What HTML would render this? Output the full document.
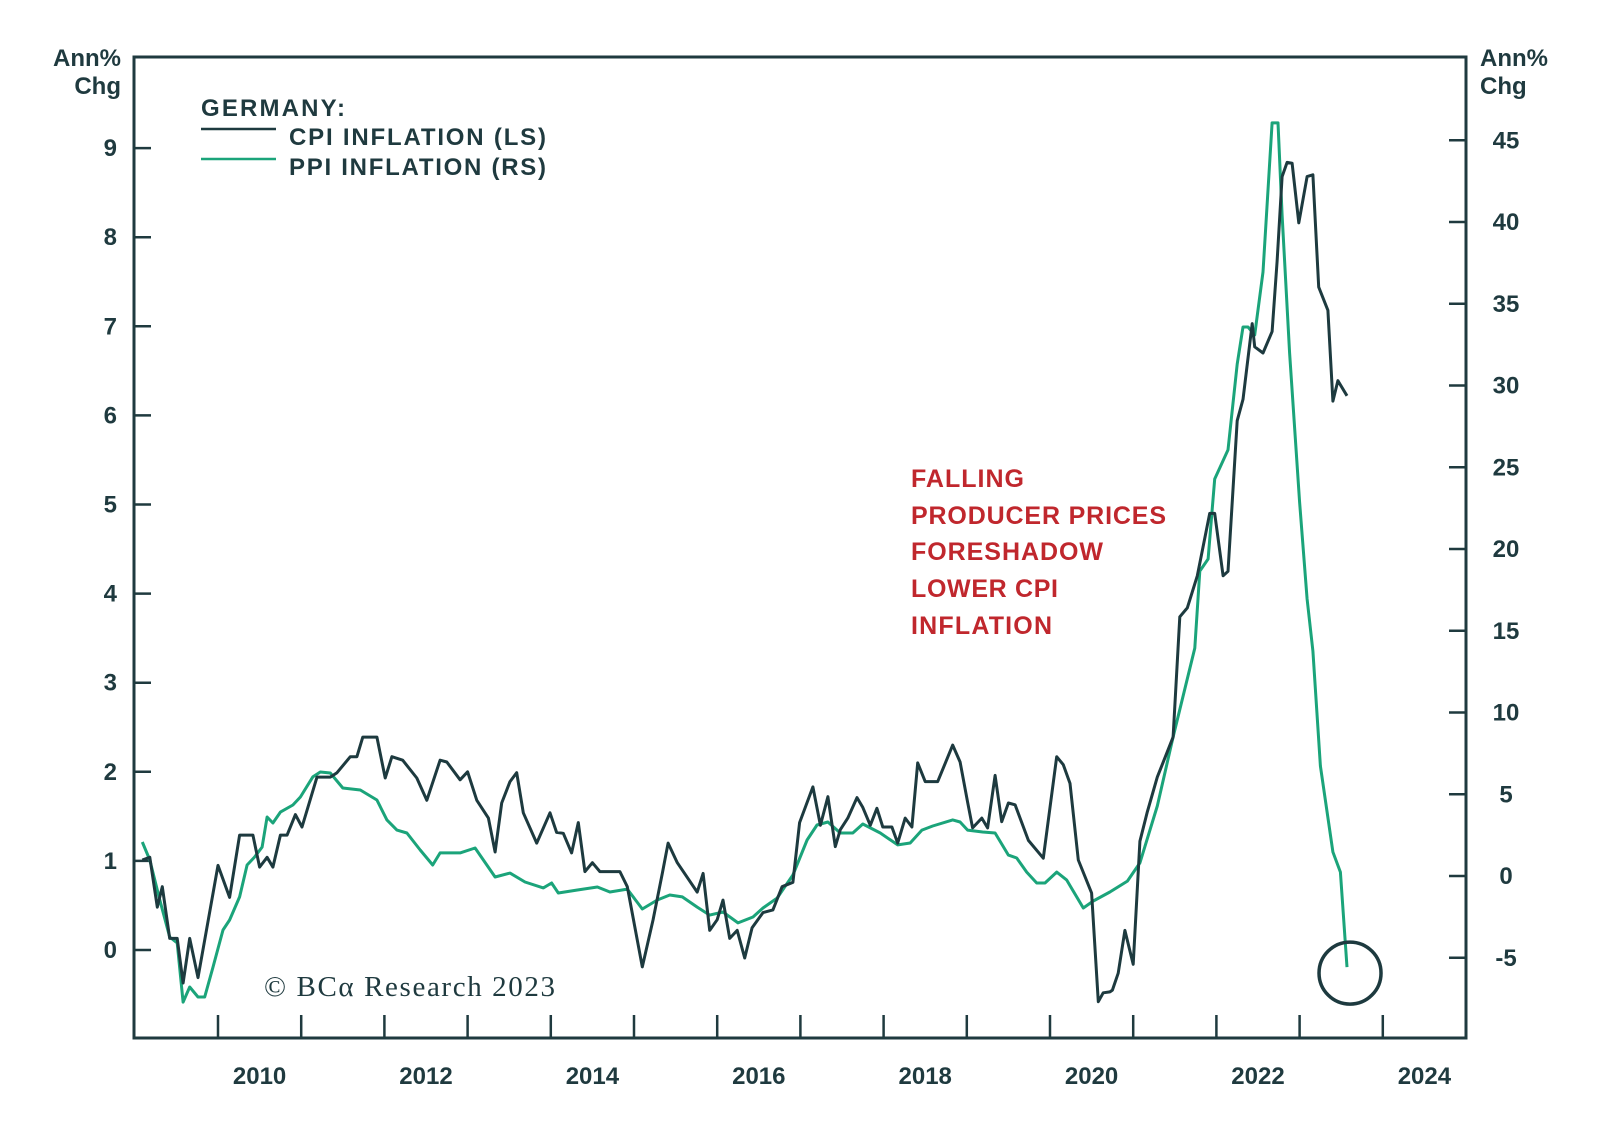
<!DOCTYPE html>
<html>
<head>
<meta charset="utf-8">
<style>
  html,body{margin:0;padding:0;background:#fff;}
  svg{display:block;}
  .ax{font-family:"Liberation Sans",sans-serif;font-weight:bold;fill:#1f3a3f;}
</style>
</head>
<body>
<svg id="chart" width="1600" height="1132" viewBox="0 0 1600 1132" xmlns="http://www.w3.org/2000/svg">
  <rect x="0" y="0" width="1600" height="1132" fill="#ffffff"/>
  <g id="grid"></g>
  <g id="series"></g>
  <g>
    <text class="ax" x="201" y="116" font-size="24" textLength="144">GERMANY:</text>
    <line x1="201" y1="129" x2="276" y2="129" stroke="#1d3a3f" stroke-width="2.5"/>
    <text class="ax" x="289" y="145" font-size="24" textLength="257">CPI INFLATION (LS)</text>
    <line x1="201" y1="159" x2="276" y2="159" stroke="#1ba47a" stroke-width="2.5"/>
    <text class="ax" x="289" y="175" font-size="24" textLength="257">PPI INFLATION (RS)</text>
  </g>
  <g font-family="'Liberation Sans',sans-serif" font-weight="bold" font-size="25" fill="#c0272d">
    <text x="911" y="487" textLength="113">FALLING</text>
    <text x="911" y="524" textLength="255">PRODUCER PRICES</text>
    <text x="911" y="560" textLength="192">FORESHADOW</text>
    <text x="911" y="597" textLength="147">LOWER CPI</text>
    <text x="911" y="634" textLength="141">INFLATION</text>
  </g>
  <text x="264" y="996" font-family="'Liberation Serif',serif" font-size="29" fill="#1f3a3f" textLength="291">© BCα Research 2023</text>
  <g>
    <text class="ax" x="121" y="66" font-size="24" text-anchor="end">Ann%</text>
    <text class="ax" x="121" y="94" font-size="24" text-anchor="end">Chg</text>
  </g>
  <g>
    <text class="ax" x="1480" y="66" font-size="24">Ann%</text>
    <text class="ax" x="1480" y="94" font-size="24">Chg</text>
  </g>
</svg>
<script>
// ---- data ----
const cpiDates = [2009.09,2009.18,2009.27,2009.33,2009.42,2009.51,2009.58,2009.66,2009.76,2010.00,2010.14,2010.26,2010.42,2010.50,2010.59,2010.66,2010.75,2010.83,2010.93,2011.01,2011.19,2011.35,2011.43,2011.59,2011.67,2011.74,2011.91,2012.01,2012.09,2012.22,2012.39,2012.51,2012.67,2012.75,2012.91,2013.00,2013.11,2013.25,2013.33,2013.41,2013.51,2013.59,2013.67,2013.83,2013.99,2014.07,2014.15,2014.25,2014.33,2014.41,2014.50,2014.59,2014.83,2014.92,2015.10,2015.23,2015.34,2015.41,2015.52,2015.76,2015.83,2015.91,2016.00,2016.07,2016.15,2016.24,2016.33,2016.42,2016.55,2016.67,2016.78,2016.91,2016.99,2017.15,2017.24,2017.33,2017.42,2017.48,2017.57,2017.68,2017.75,2017.84,2017.92,2017.99,2018.10,2018.17,2018.26,2018.34,2018.41,2018.50,2018.65,2018.83,2018.92,2019.01,2019.07,2019.18,2019.25,2019.34,2019.42,2019.50,2019.58,2019.74,2019.92,2020.08,2020.16,2020.24,2020.34,2020.50,2020.58,2020.64,2020.72,2020.75,2020.82,2020.90,2021.00,2021.08,2021.17,2021.29,2021.48,2021.56,2021.65,2021.77,2021.92,2021.98,2022.08,2022.14,2022.25,2022.32,2022.43,2022.46,2022.56,2022.67,2022.73,2022.79,2022.85,2022.91,2022.99,2023.09,2023.16,2023.23,2023.34,2023.40,2023.46,2023.57];
const cpiValues = [1.01,1.04,0.48,0.71,0.13,0.13,-0.37,0.13,-0.31,0.95,0.59,1.29,1.29,0.93,1.04,0.93,1.29,1.29,1.52,1.38,1.94,1.94,1.99,2.17,2.17,2.39,2.39,1.93,2.17,2.13,1.93,1.68,2.13,2.11,1.91,2.00,1.68,1.48,1.10,1.65,1.89,1.99,1.54,1.20,1.54,1.32,1.31,1.09,1.43,0.88,0.98,0.88,0.88,0.71,-0.19,0.34,0.86,1.20,0.98,0.65,0.86,0.22,0.34,0.56,0.13,0.22,-0.09,0.25,0.42,0.45,0.71,0.76,1.43,1.83,1.40,1.72,1.16,1.35,1.48,1.71,1.60,1.40,1.59,1.38,1.38,1.20,1.48,1.38,2.10,1.89,1.89,2.30,2.11,1.66,1.37,1.48,1.37,1.96,1.44,1.65,1.63,1.23,1.03,2.17,2.08,1.87,1.01,0.64,-0.58,-0.48,-0.47,-0.45,-0.26,0.22,-0.16,1.22,1.55,1.94,2.39,3.74,3.84,4.20,4.90,4.90,4.20,4.25,5.94,6.18,7.03,6.77,6.70,6.94,7.73,8.68,8.84,8.83,8.16,8.68,8.70,7.44,7.18,6.16,6.39,6.22];
const ppiDates = [2009.09,2009.18,2009.30,2009.42,2009.51,2009.58,2009.66,2009.76,2009.84,2009.94,2010.06,2010.14,2010.26,2010.35,2010.44,2010.53,2010.59,2010.66,2010.75,2010.90,2010.99,2011.14,2011.23,2011.35,2011.50,2011.71,2011.91,2012.03,2012.15,2012.27,2012.43,2012.58,2012.67,2012.91,2013.09,2013.33,2013.51,2013.69,2013.91,2014.01,2014.09,2014.31,2014.56,2014.71,2014.92,2015.10,2015.28,2015.43,2015.58,2015.76,2015.91,2016.07,2016.25,2016.43,2016.55,2016.72,2016.91,2017.08,2017.20,2017.33,2017.48,2017.63,2017.75,2017.96,2018.17,2018.32,2018.46,2018.59,2018.83,2018.92,2019.01,2019.19,2019.34,2019.50,2019.60,2019.72,2019.84,2019.94,2020.08,2020.20,2020.40,2020.52,2020.72,2020.93,2021.08,2021.29,2021.48,2021.74,2021.80,2021.90,2021.98,2022.14,2022.25,2022.32,2022.38,2022.46,2022.56,2022.67,2022.74,2022.79,2022.88,2023.00,2023.09,2023.16,2023.25,2023.40,2023.49,2023.57];
const ppiValues = [2.08,0.98,-1.47,-3.73,-4.10,-7.71,-6.79,-7.40,-7.40,-5.57,-3.30,-2.69,-1.28,0.67,1.16,1.77,3.61,3.24,3.91,4.34,4.83,6.06,6.36,6.30,5.38,5.26,4.65,3.43,2.81,2.63,1.59,0.67,1.41,1.41,1.71,-0.06,0.18,-0.37,-0.73,-0.43,-1.04,-0.86,-0.67,-0.98,-0.80,-2.02,-1.47,-1.16,-1.28,-1.90,-2.39,-2.20,-2.87,-2.51,-1.96,-1.35,0.06,2.20,3.12,3.30,2.63,2.63,3.18,2.63,1.90,2.02,2.81,3.06,3.43,3.30,2.81,2.69,2.63,1.28,1.10,0.24,-0.43,-0.43,0.24,-0.24,-1.96,-1.53,-0.98,-0.31,0.80,4.28,8.50,13.94,18.65,19.39,24.28,26.06,31.31,33.58,33.58,33.09,36.94,46.06,46.06,40.43,31.99,22.87,16.94,13.76,6.73,1.47,0.24,-5.57];
const leftTicks = [0,1,2,3,4,5,6,7,8,9];
const rightTicks = [-5,0,5,10,15,20,25,30,35,40,45];
const yearTicks = [2010,2011,2012,2013,2014,2015,2016,2017,2018,2019,2020,2021,2022,2023,2024];
const yearLabels = [2010,2012,2014,2016,2018,2020,2022,2024];

// ---- geometry ----
const L=134, R=1466, T=57, B=1038;
const X = t => 218 + (t-2010)*83.2;
const YL = v => 950 - v*89.1;
const YR = v => 876 - v*16.35;
const NS='http://www.w3.org/2000/svg';
function mk(tag, attrs, parent){
  const e=document.createElementNS(NS,tag);
  for(const k in attrs) e.setAttribute(k,attrs[k]);
  parent.appendChild(e); return e;
}
const grid=document.getElementById('grid');
const ser=document.getElementById('series');
const C='#1f3a3f';

// frame
const fr=mk('rect',{x:L,y:T,width:R-L,height:B-T,fill:'none',stroke:C,'stroke-width':3},grid);



leftTicks.forEach(v=>{
  const y=YL(v);
  const tk=mk('line',{x1:L,x2:L+17,y1:y,y2:y,stroke:C,'stroke-width':2.5},grid);
  
  
  const tx=mk('text',{x:117,y:y+8,'text-anchor':'end','font-size':24,class:'ax'},grid);
  tx.textContent=v;
  
  
});
rightTicks.forEach(v=>{
  const y=YR(v);
  const tk=mk('line',{x1:R-17,x2:R,y1:y,y2:y,stroke:C,'stroke-width':2.5},grid);
  
  
  const tx=mk('text',{x:1506,y:y+8,'text-anchor':'middle','font-size':24,class:'ax'},grid);
  tx.textContent=v;
  
  
});
yearTicks.forEach(t=>{
  const x=X(t);
  const tk=mk('line',{x1:x,x2:x,y1:B-23,y2:B,stroke:C,'stroke-width':2.5},grid);
  
  
});
yearLabels.forEach(t=>{
  const tx=mk('text',{x:X(t+0.5),y:1084,'text-anchor':'middle','font-size':24,class:'ax'},grid);
  tx.textContent=t;
  
  
});

function pathFrom(dates, vals, yf){
  return dates.map((d,i)=>(i?'L':'M')+X(d).toFixed(1)+','+yf(vals[i]).toFixed(1)).join(' ');
}
const ppi=mk('path',{d:pathFrom(ppiDates,ppiValues,YR),fill:'none',stroke:'#1ba47a','stroke-width':3,'stroke-linejoin':'round'},ser);


const cpi=mk('path',{d:pathFrom(cpiDates,cpiValues,YL),fill:'none',stroke:'#1d3a3f','stroke-width':3,'stroke-linejoin':'round'},ser);



// highlight circle around last PPI point
const lastI=ppiDates.length-1;
const circ=mk('circle',{cx:X(ppiDates[lastI])+3,cy:YR(ppiValues[lastI])+6,r:31,fill:'none',stroke:'#1d3a3f','stroke-width':3.5},ser);


</script>
</body>
</html>
